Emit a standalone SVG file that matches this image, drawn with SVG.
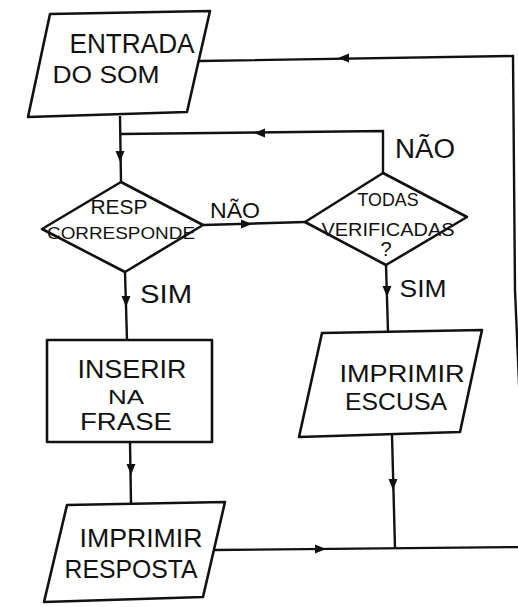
<svg xmlns="http://www.w3.org/2000/svg" width="518" height="607" viewBox="0 0 518 607">
<style>
.s{fill:#fff;stroke:#111;stroke-width:2.6;stroke-linejoin:round}
.c{fill:none;stroke:#111;stroke-width:2.4}
.t{font-family:"Liberation Sans","DejaVu Sans",sans-serif;fill:#111;text-anchor:middle}
</style>
<defs>
<path id="ah" d="M0,0 L-11,-4.5 L-11,4.5 Z" fill="#111"/>
</defs>
<rect width="518" height="607" fill="#fff"/>
<g id="connectors">
<path class="c" d="M199,61 L513,56 L515,290 L526,547"/>
<path class="c" d="M213,550 L526,547"/>
<path class="c" d="M120,116 L121,182"/>
<path class="c" d="M120,134 L383,131 L383,173"/>
<path class="c" d="M203,225 L305,222"/>
<path class="c" d="M125,272 L127,340"/>
<path class="c" d="M386,265 L388,331"/>
<path class="c" d="M130,442 L131,503"/>
<path class="c" d="M392,435 L395,548"/>
<use href="#ah" transform="translate(338,58) rotate(180)"/>
<use href="#ah" transform="translate(254,133) rotate(180)"/>
<use href="#ah" transform="translate(120,162) rotate(90)"/>
<use href="#ah" transform="translate(252,224)"/>
<use href="#ah" transform="translate(126,307) rotate(90)"/>
<use href="#ah" transform="translate(387,297) rotate(90)"/>
<use href="#ah" transform="translate(131,475) rotate(90)"/>
<use href="#ah" transform="translate(393,490) rotate(90)"/>
<use href="#ah" transform="translate(326,549)"/>
</g>
<g id="entrada">
<polygon class="s" points="50,14 210,11 187,112 28,117"/>
<text class="t" x="132" y="53" font-size="27" textLength="125" lengthAdjust="spacingAndGlyphs">ENTRADA</text>
<text class="t" x="106" y="83" font-size="24" textLength="107" lengthAdjust="spacingAndGlyphs">DO SOM</text>
</g>
<g id="resp">
<polygon class="s" points="121,182 203,225 125,272 42,229"/>
<text class="t" x="119" y="214" font-size="21" textLength="57" lengthAdjust="spacingAndGlyphs">RESP</text>
<text class="t" x="121" y="239" font-size="17" textLength="148" lengthAdjust="spacingAndGlyphs">CORRESPONDE</text>
</g>
<g id="todas">
<polygon class="s" points="383,173 467,217 386,265 305,222"/>
<text class="t" x="388" y="206" font-size="19" textLength="61" lengthAdjust="spacingAndGlyphs">TODAS</text>
<text class="t" x="388" y="236" font-size="19" textLength="133" lengthAdjust="spacingAndGlyphs">VERIFICADAS</text>
<text class="t" x="386" y="256" font-size="20">?</text>
</g>
<g id="inserir">
<rect class="s" x="47" y="340" width="165" height="102"/>
<text class="t" x="132" y="378" font-size="26" textLength="109" lengthAdjust="spacingAndGlyphs">INSERIR</text>
<text class="t" x="126" y="404" font-size="20" textLength="36" lengthAdjust="spacingAndGlyphs">NA</text>
<text class="t" x="126" y="430" font-size="24" textLength="92" lengthAdjust="spacingAndGlyphs">FRASE</text>
</g>
<g id="escusa">
<polygon class="s" points="322,333 482,330 460,432 299,437"/>
<text class="t" x="402" y="382" font-size="24" textLength="125" lengthAdjust="spacingAndGlyphs">IMPRIMIR</text>
<text class="t" x="396" y="410" font-size="24" textLength="102" lengthAdjust="spacingAndGlyphs">ESCUSA</text>
</g>
<g id="resposta">
<polygon class="s" points="67,505 225,502 203,597 44,602"/>
<text class="t" x="141" y="547" font-size="26" textLength="123" lengthAdjust="spacingAndGlyphs">IMPRIMIR</text>
<text class="t" x="131" y="578" font-size="26" textLength="133" lengthAdjust="spacingAndGlyphs">RESPOSTA</text>
</g>
<g id="labels">
<text class="t" x="235" y="218" font-size="22" textLength="50" lengthAdjust="spacingAndGlyphs">NÃO</text>
<text class="t" x="425" y="158" font-size="27" textLength="60" lengthAdjust="spacingAndGlyphs">NÃO</text>
<text class="t" x="166" y="303" font-size="25" textLength="52" lengthAdjust="spacingAndGlyphs">SIM</text>
<text class="t" x="423" y="297" font-size="23" textLength="47" lengthAdjust="spacingAndGlyphs">SIM</text>
</g>
</svg>
